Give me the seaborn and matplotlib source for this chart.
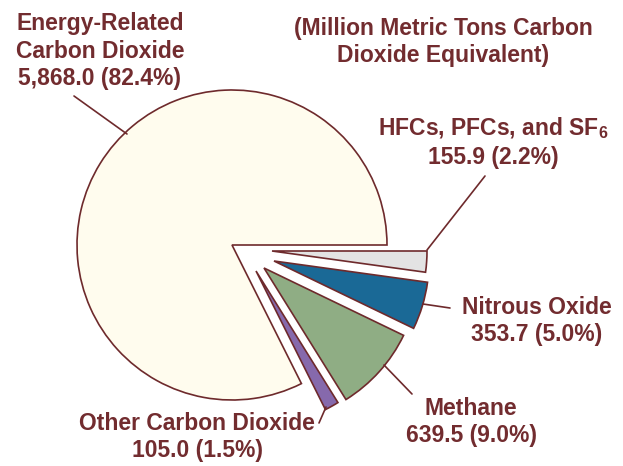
import matplotlib
matplotlib.use("Agg")
import matplotlib.pyplot as plt
import seaborn as sns

# ---- data ----
categories = ["HFCs, PFCs, and SF$_6$", "Nitrous Oxide", "Methane",
              "Other Carbon Dioxide", "Energy-Related\nCarbon Dioxide"]
values = [155.9, 353.7, 639.5, 105.0, 5868.0]
value_labels = ["155.9 (2.2%)", "353.7 (5.0%)", "639.5 (9.0%)",
                "105.0 (1.5%)", "5,868.0 (82.4%)"]
unit_note = "(Million Metric Tons Carbon\nDioxide Equivalent)"

# ---- style ----
sns.set_theme(style="white")
plt.rcParams["font.family"] = ["Liberation Sans", "DejaVu Sans"]
plt.rcParams["mathtext.fontset"] = "custom"
plt.rcParams["mathtext.rm"] = "Liberation Sans:bold"
plt.rcParams["mathtext.it"] = "Liberation Sans:bold"
plt.rcParams["mathtext.bf"] = "Liberation Sans:bold"

colors = ["#E3E3E3", "#1A6996", "#8FAD84", "#8669AC", "#FFFCEE"]
edge = "#6E2A2C"
txt = "#722C2F"

W, H = 623, 466
fig = plt.figure(figsize=(W / 100, H / 100), dpi=100)
ax = fig.add_axes([0, 0, 1, 1])
ax.set_xlim(0, W)
ax.set_ylim(0, H)
ax.set_aspect("equal")
ax.axis("off")


def px(x, y):
    return (x, H - y)


R = 155
wedges, _ = ax.pie(values, colors=colors, startangle=0, counterclock=False,
                   radius=R, center=px(232, 245),
                   wedgeprops=dict(edgecolor=edge, linewidth=1.2))
# individual explode offsets (apex positions, pixels)
apex = [(272, 251), (274, 261), (264, 268), (256, 271), (232, 245)]
for w, a in zip(wedges, apex):
    w.set_center(px(*a))
ax.set_xlim(0, W)
ax.set_ylim(0, H)

fs = 16.5
kw = dict(fontsize=fs, fontweight="bold", color=txt, ha="center", va="center",
          multialignment="center", linespacing=1.24)

label_pos = [(493, 142), (537, 321), (471, 422), (197, 437), (100, 51)]
for cat, vl, pos in zip(categories, value_labels, label_pos):
    ax.text(*px(*pos), f"{cat}\n{vl}", **kw)
ax.text(*px(443, 42), unit_note, **kw)

leaders = [((485, 176), (427, 250)), ((450, 308), (423, 304)),
           ((412, 394), (384, 365)), ((319, 423), (326, 407)),
           ((74, 96), (127, 134))]
for p0, p1 in leaders:
    a0, a1 = px(*p0), px(*p1)
    ax.plot([a0[0], a1[0]], [a0[1], a1[1]], color=edge, lw=1.2)

fig.savefig("out.png", dpi=100, facecolor="white")
